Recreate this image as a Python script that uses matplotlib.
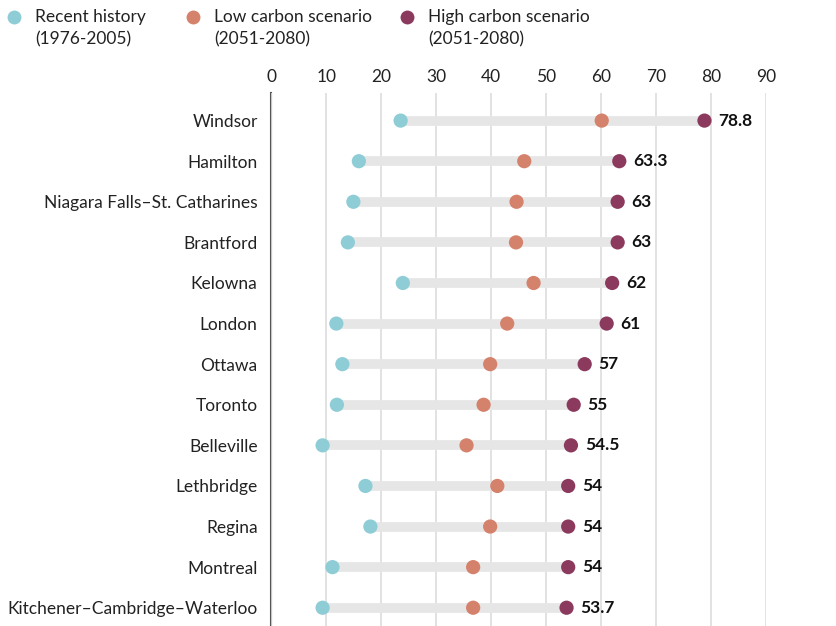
import matplotlib
matplotlib.use("Agg")
import matplotlib.pyplot as plt
from matplotlib.lines import Line2D

plt.rcParams['font.family'] = ['Lato', 'DejaVu Sans']

cities = ["Windsor", "Hamilton", "Niagara Falls\u2013St. Catharines", "Brantford", "Kelowna",
          "London", "Ottawa", "Toronto", "Belleville", "Lethbridge", "Regina", "Montreal",
          "Kitchener\u2013Cambridge\u2013Waterloo"]
recent = [23.5, 15.9, 14.9, 13.9, 23.9, 11.8, 12.9, 11.9, 9.3, 17.1, 18.0, 11.1, 9.3]
low = [60.1, 46.0, 44.6, 44.5, 47.7, 42.9, 39.8, 38.6, 35.5, 41.1, 39.8, 36.7, 36.7]
high = [78.8, 63.3, 63, 63, 62, 61, 57, 55, 54.5, 54, 54, 54, 53.7]
high_labels = ["78.8", "63.3", "63", "63", "62", "61", "57", "55", "54.5", "54", "54", "54", "53.7"]
xticks = [0, 10, 20, 30, 40, 50, 60, 70, 80, 90]
legend_labels = ["Recent history\n(1976-2005)", "Low carbon scenario\n(2051-2080)", "High carbon scenario\n(2051-2080)"]

c_recent = "#8ecdd6"
c_low = "#d4826c"
c_high = "#8b3a5e"

W, H = 837, 626
fig = plt.figure(figsize=(W / 100, H / 100), dpi=100)
ax_left, ax_right, ax_top, ax_bot = 271.5, 766, 93, 626
ax = fig.add_axes([ax_left / W, 1 - ax_bot / H, (ax_right - ax_left) / W, (ax_bot - ax_top) / H])

ax.set_xlim(0, 90)
ax.set_ylim(12.45, -0.68)
y = list(range(len(cities)))

for i in y:
    ax.plot([recent[i], high[i]], [i, i], color="#e6e6e6", lw=7, solid_capstyle="butt", zorder=1)

ax.scatter(recent, y, s=105, color=c_recent, zorder=3, edgecolors="none")
ax.scatter(low, y, s=105, color=c_low, zorder=3, edgecolors="none")
ax.scatter(high, y, s=105, color=c_high, zorder=3, edgecolors="none")

for i in y:
    ax.annotate(high_labels[i], (high[i], i), xytext=(10, 0), textcoords="offset points",
                ha="left", va="center", fontsize=12.5, fontweight="bold", color="#111111",
                annotation_clip=False)

ax.set_xticks(xticks)
ax.xaxis.tick_top()
ax.tick_params(axis="x", length=0, pad=6, labelsize=12.5, labelcolor="#222222")
ax.set_yticks(y)
ax.set_yticklabels(cities)
ax.tick_params(axis="y", length=0, pad=10, labelsize=12.5, labelcolor="#222222")
ax.grid(axis="x", color="#dddddd", lw=1.2, zorder=0)
ax.set_axisbelow(True)
for s in ["top", "right", "bottom"]:
    ax.spines[s].set_visible(False)
ax.spines["left"].set_color("#555555")
ax.spines["left"].set_linewidth(1.5)
ax.spines["left"].set_zorder(0.5)

# legend
leg_x = [14, 193, 407]
colors = [c_recent, c_low, c_high]
for lx, col, lab in zip(leg_x, colors, legend_labels):
    fig.add_artist(Line2D([lx / W], [1 - 17 / H], marker="o", markersize=10, color=col,
                          markeredgecolor="none", transform=fig.transFigure))
    fig.text((lx + 21) / W, 1 - 9 / H, lab, ha="left", va="top", fontsize=12.5,
             color="#222222", linespacing=1.5)

fig.savefig("out.png", dpi=100)
